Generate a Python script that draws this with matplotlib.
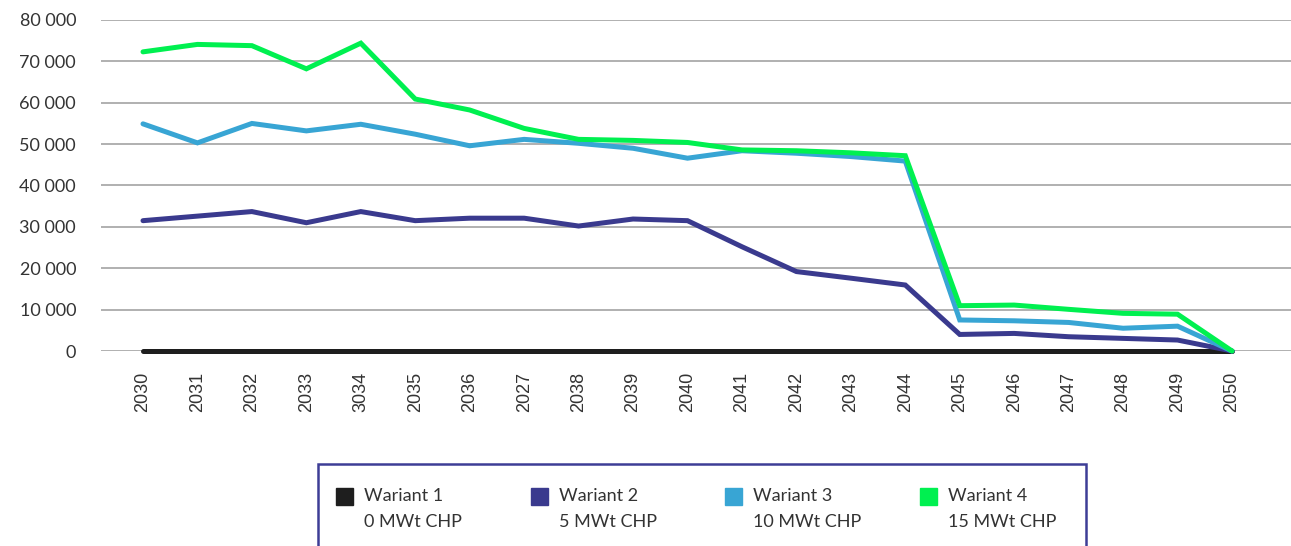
import matplotlib
matplotlib.use("Agg")
import matplotlib.pyplot as plt
from matplotlib.patches import Rectangle

plt.rcParams['font.family'] = ['Lato', 'DejaVu Sans']

years = ["2030", "2031", "2032", "2033", "3034", "2035", "2036", "2027", "2038", "2039",
         "2040", "2041", "2042", "2043", "2044", "2045", "2046", "2047", "2048", "2049", "2050"]

wariant1 = [0] * 21
wariant2 = [31500, 32600, 33700, 31000, 33700, 31500, 32100, 32100, 30200, 31900,
            31500, 25200, 19200, 17600, 15950, 4000, 4250, 3450, 3050, 2650, 0]
wariant3 = [54900, 50300, 55000, 53200, 54800, 52400, 49600, 51150, 50200, 49000,
            46600, 48400, 47800, 47000, 45900, 7500, 7300, 6900, 5500, 6000, 0]
wariant4 = [72300, 74100, 73800, 68200, 74400, 60900, 58250, 53800, 51150, 50900,
            50400, 48600, 48400, 47900, 47200, 10950, 11100, 10070, 9100, 8900, 0]

names = ["Wariant 1", "Wariant 2", "Wariant 3", "Wariant 4"]
subnames = ["0 MWt CHP", "5 MWt CHP", "10 MWt CHP", "15 MWt CHP"]
series = [wariant1, wariant2, wariant3, wariant4]
colors = ["#1e1e1e", "#3a3a8e", "#38a5d4", "#00f050"]

W, H = 1291, 546
fig = plt.figure(figsize=(W / 100, H / 100), dpi=100)
ax = fig.add_axes([101 / W, 1 - 351 / H, (1291 - 101) / W, (351 - 20) / H])

x = list(range(len(years)))
for s, c in zip(series, colors):
    ax.plot(x, s, color=c, lw=3.6, solid_capstyle='round', solid_joinstyle='miter',
            clip_on=False, zorder=3)

ax.set_ylim(0, 80000)
ax.set_xlim(-42 / 54.45, 20 + 59 / 54.45)
yt = list(range(0, 80001, 10000))
ax.set_yticks(yt)
ax.set_yticklabels([f"{v:,}".replace(",", " ") for v in yt], fontsize=13,
                   family=['Lato', 'DejaVu Sans'], color='#333333')
ax.set_xticks(x)
ax.set_xticklabels(years, rotation=90, fontsize=13, family=['Liberation Sans', 'DejaVu Sans'],
                   color='#333333')
ax.grid(axis='y', color='#aaaaaa', lw=1.3, zorder=0)
for sp in ax.spines.values():
    sp.set_visible(False)
ax.tick_params(axis='both', length=0, labelcolor='#333333')
ax.tick_params(axis='y', pad=18)
ax.tick_params(axis='x', pad=15)

# legend box
fig.patches.append(Rectangle((318 / W, -0.05), (1086 - 318) / W, 1 - 464 / H + 0.05,
                             transform=fig.transFigure, fill=False, edgecolor='#3d3d96',
                             lw=1.8))
for i, (n, sn, c) in enumerate(zip(names, subnames, colors)):
    x0 = 336 + i * 194.7
    fig.patches.append(Rectangle((x0 / W, 1 - 505 / H), 17 / W, 17 / H,
                                 transform=fig.transFigure, color=c))
    fig.text((x0 + 28) / W, 1 - 496 / H, n, fontsize=13, color='#333333', va='center')
    fig.text((x0 + 28) / W, 1 - 522 / H, sn, fontsize=13, color='#333333', va='center')

fig.savefig("out.png", dpi=100)
